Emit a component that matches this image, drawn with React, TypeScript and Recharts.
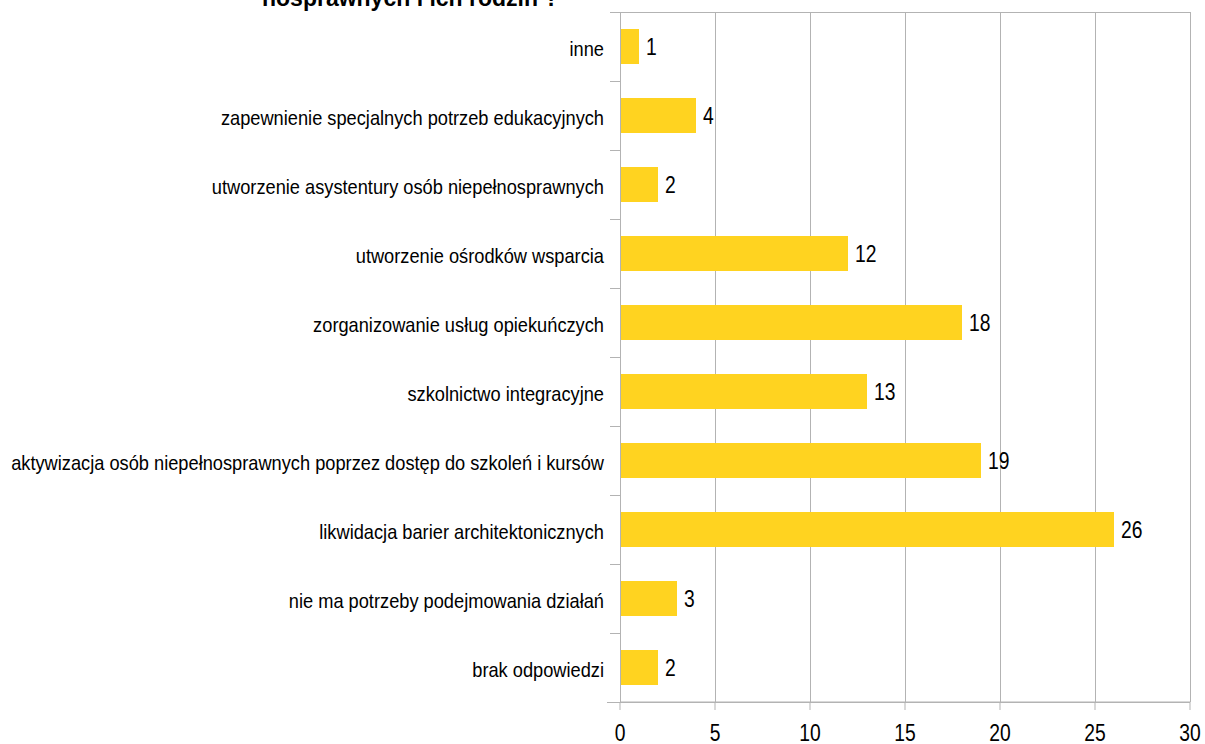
import React from "react";
import { BarChart, Bar, XAxis, YAxis, CartesianGrid, LabelList } from "recharts";

const categories = [
  "inne",
  "zapewnienie specjalnych potrzeb edukacyjnych",
  "utworzenie asystentury osób niepełnosprawnych",
  "utworzenie ośrodków wsparcia",
  "zorganizowanie usług opiekuńczych",
  "szkolnictwo integracyjne",
  "aktywizacja osób niepełnosprawnych poprzez dostęp do szkoleń i kursów",
  "likwidacja barier architektonicznych",
  "nie ma potrzeby podejmowania działań",
  "brak odpowiedzi",
];
const values = [1, 4, 2, 12, 18, 13, 19, 26, 3, 2];
const xTicks = [0, 5, 10, 15, 20, 25, 30];
const titleTail = "nosprawnych i ich rodzin ?";

const data = categories.map((c, i) => ({ name: c, value: values[i] }));

const FONT = "'Liberation Sans', Arial, sans-serif";
const GRID = "#b3b3b3";
const SQ = 0.84;
const CAT_TICK_SIZE = 6;
const CAT_TICK_MARGIN = 10;

const CatTick = (props: any) => {
  const { x, y, payload, index, visibleTicksCount } = props;
  const half = payload && payload.offset ? payload.offset : 0;
  const axisX = x + CAT_TICK_SIZE + CAT_TICK_MARGIN;
  return (
    <g>
      <line
        x1={axisX - 10}
        x2={axisX}
        y1={y - half}
        y2={y - half}
        stroke={GRID}
        strokeWidth={1}
        shapeRendering="crispEdges"
      />
      {index === visibleTicksCount - 1 && (
        <line
          x1={axisX - 13}
          x2={axisX}
          y1={y + half}
          y2={y + half}
          stroke={GRID}
          strokeWidth={1}
          shapeRendering="crispEdges"
        />
      )}
      <g transform={`translate(${x},${y + 9}) scale(0.89,1)`}>
        <text x={0} y={0} textAnchor="end" fill="#000" fontSize={20.5} fontFamily={FONT}>
          {payload.value}
        </text>
      </g>
    </g>
  );
};

const NumTick = (props: any) => {
  const { x, y, payload } = props;
  return (
    <g transform={`translate(${x},${y + 31}) scale(${SQ},1)`}>
      <text x={0} y={0} textAnchor="middle" fill="#000" fontSize={23} fontFamily={FONT}>
        {payload.value}
      </text>
    </g>
  );
};

const ValueLabel = (props: any) => {
  const { x, y, width, height, value } = props;
  const lx = x + width + 7;
  const ly = y + height / 2 + 8;
  return (
    <g transform={`translate(${lx},${ly}) scale(${SQ},1)`}>
      <text x={0} y={0} textAnchor="start" fill="#000" fontSize={23} fontFamily={FONT}>
        {value}
      </text>
    </g>
  );
};

export default function App() {
  return (
    <div style={{ position: "absolute", left: 0, top: 0, width: 1205, height: 744, background: "#fff", overflow: "hidden" }}>
      <BarChart
        width={1205}
        height={744}
        data={data}
        layout="vertical"
        margin={{ top: 12, right: 15, bottom: 0, left: 0 }}
        barCategoryGap="24.5%"
      >
        <CartesianGrid
          stroke={GRID}
          strokeWidth={1}
          horizontal={true}
          vertical={true}
          shapeRendering="crispEdges"
          horizontalCoordinatesGenerator={({ offset }: any) => [offset.top, offset.top + offset.height]}
        />
        <YAxis
          type="category"
          dataKey="name"
          width={620}
          axisLine={{ stroke: GRID, shapeRendering: "crispEdges" }}
          tickLine={false}
          tickSize={CAT_TICK_SIZE}
          tickMargin={CAT_TICK_MARGIN}
          interval={0}
          tick={<CatTick />}
        />
        <XAxis
          type="number"
          domain={[0, 30]}
          ticks={xTicks}
          height={42}
          tickSize={8}
          tickMargin={0}
          tickLine={{ stroke: GRID }}
          axisLine={{ stroke: GRID }}
          tick={<NumTick />}
        />
        <Bar dataKey="value" fill="#ffd320" isAnimationActive={false} barSize={35}>
          <LabelList dataKey="value" content={<ValueLabel />} />
        </Bar>
      </BarChart>
      <div
        style={{
          position: "absolute",
          left: 262,
          top: -13,
          fontFamily: FONT,
          fontWeight: "bold",
          fontSize: 23,
          lineHeight: "23px",
          color: "#000",
          whiteSpace: "nowrap",
        }}
      >
        {titleTail}
      </div>
    </div>
  );
}
